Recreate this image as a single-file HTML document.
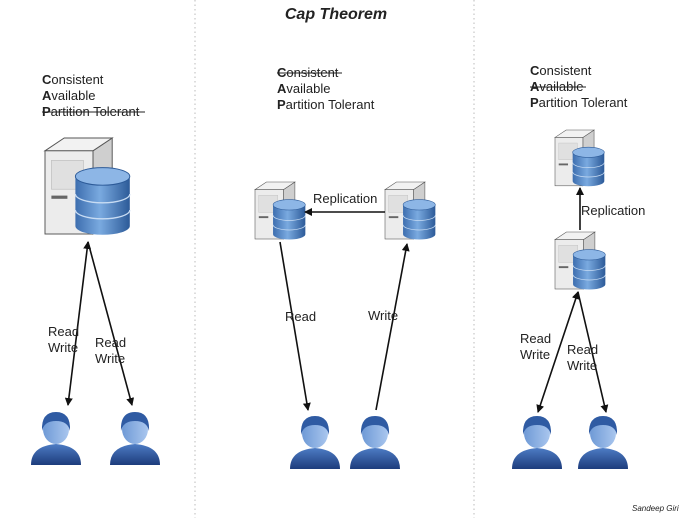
<!DOCTYPE html>
<html><head><meta charset="utf-8"><style>
html,body{margin:0;padding:0;background:#fff;width:690px;height:518px;overflow:hidden}
svg text{font-family:"Liberation Sans",sans-serif;fill:#222}
</style></head><body>
<svg width="690" height="518" viewBox="0 0 690 518" xmlns="http://www.w3.org/2000/svg">
<defs>
<linearGradient id="db" x1="0" x2="1" y1="0" y2="0"><stop offset="0" stop-color="#3d6eaf"/><stop offset="0.45" stop-color="#7aaae0"/><stop offset="1" stop-color="#2c5a98"/></linearGradient>
<linearGradient id="us" x1="0" x2="0" y1="0" y2="1"><stop offset="0" stop-color="#4d7cc4"/><stop offset="1" stop-color="#1d3c7c"/></linearGradient>
<linearGradient id="face" x1="0" x2="1"><stop offset="0" stop-color="#6f9ad6"/><stop offset="1" stop-color="#a9c6ee"/></linearGradient>
<g id="srv">
<polygon points="30,8 42,0 42,52 30,60" fill="#cfcfcf" stroke="#555" stroke-width="0.6"/>
<polygon points="0,8 12,0 42,0 30,8" fill="#f2f2f2" stroke="#555" stroke-width="0.6"/>
<rect x="0" y="8" width="30" height="52" fill="#ececec" stroke="#555" stroke-width="0.6"/>
<rect x="4" y="14" width="20" height="18" fill="#e0e0e0" stroke="#bbb" stroke-width="0.4"/>
<rect x="4" y="36" width="10" height="2" fill="#666"/>
<path d="M19,24 v31 a17,5.5 0 0 0 34,0 v-31 z" fill="url(#db)"/>
<ellipse cx="36" cy="24" rx="17" ry="5.5" fill="#8db6e6" stroke="#2c5a98" stroke-width="0.6"/>
<path d="M19,35 a17,5.5 0 0 0 34,0 M19,45 a17,5.5 0 0 0 34,0" fill="none" stroke="#c8dcf3" stroke-width="0.8"/>
</g>
<g id="usr">
<path d="M0,55 Q0,36 25,34 Q50,36 50,55 Z" fill="url(#us)"/>
<ellipse cx="25" cy="19" rx="13" ry="15" fill="url(#face)"/>
<path d="M11,21 Q10,2 25,2 Q40,2 39,21 Q37,11 25,11 Q13,11 11,21 Z" fill="#2f5ba3"/>
</g>
<marker id="ah" markerWidth="8" markerHeight="8" refX="7" refY="4" orient="auto" markerUnits="userSpaceOnUse"><path d="M0,0 L8,4 L0,8 z" fill="#111"/></marker>
<marker id="at" markerWidth="8" markerHeight="8" refX="1" refY="4" orient="auto" markerUnits="userSpaceOnUse"><path d="M8,0 L0,4 L8,8 z" fill="#111"/></marker>
</defs>
<line x1="195" y1="0" x2="195" y2="518" stroke="#bbb" stroke-dasharray="1.5,3"/>
<line x1="474" y1="0" x2="474" y2="518" stroke="#bbb" stroke-dasharray="1.5,3"/>
<text x="336" y="19" font-size="16" font-weight="bold" font-style="italic" text-anchor="middle">Cap Theorem</text>

<g font-size="13">
<text x="42" y="84"><tspan font-weight="bold">C</tspan>onsistent</text>
<text x="42" y="100"><tspan font-weight="bold">A</tspan>vailable</text>
<text x="42" y="116"><tspan font-weight="bold">P</tspan>artition Tolerant</text>
<line x1="42" y1="112" x2="145" y2="112" stroke="#222"/>
<text x="277" y="77"><tspan font-weight="bold">C</tspan>onsistent</text>
<line x1="277" y1="73" x2="342" y2="73" stroke="#222"/>
<text x="277" y="93"><tspan font-weight="bold">A</tspan>vailable</text>
<text x="277" y="109"><tspan font-weight="bold">P</tspan>artition Tolerant</text>
<text x="530" y="75"><tspan font-weight="bold">C</tspan>onsistent</text>
<text x="530" y="91"><tspan font-weight="bold">A</tspan>vailable</text>
<line x1="530" y1="87" x2="586" y2="87" stroke="#222"/>
<text x="530" y="107"><tspan font-weight="bold">P</tspan>artition Tolerant</text>
</g>

<use href="#srv" transform="translate(45,138) scale(1.6)"/>
<use href="#srv" transform="translate(255,182) scale(0.95)"/>
<use href="#srv" transform="translate(385,182) scale(0.95)"/>
<use href="#srv" transform="translate(555,130) scale(0.93)"/>
<use href="#srv" transform="translate(555,232) scale(0.95)"/>

<g stroke="#111" stroke-width="1.6" fill="none">
<line x1="88" y1="242" x2="68" y2="405" marker-start="url(#at)" marker-end="url(#ah)"/>
<line x1="88" y1="242" x2="132" y2="405" marker-end="url(#ah)"/>
<line x1="385" y1="212" x2="305" y2="212" marker-end="url(#ah)"/>
<line x1="280" y1="242" x2="308" y2="410" marker-end="url(#ah)"/>
<line x1="376" y1="410" x2="407" y2="244" marker-end="url(#ah)"/>
<line x1="580" y1="230" x2="580" y2="188" marker-end="url(#ah)"/>
<line x1="578" y1="292" x2="538" y2="412" marker-start="url(#at)" marker-end="url(#ah)"/>
<line x1="578" y1="292" x2="606" y2="412" marker-end="url(#ah)"/>
</g>

<g font-size="13">
<text x="48" y="336">Read</text><text x="48" y="352">Write</text>
<text x="95" y="347">Read</text><text x="95" y="363">Write</text>
<text x="313" y="203">Replication</text>
<text x="285" y="321">Read</text>
<text x="368" y="320">Write</text>
<text x="581" y="215">Replication</text>
<text x="520" y="343">Read</text><text x="520" y="359">Write</text>
<text x="567" y="354">Read</text><text x="567" y="370">Write</text>
</g>

<use href="#usr" transform="translate(31,410)"/>
<use href="#usr" transform="translate(110,410)"/>
<use href="#usr" transform="translate(290,414)"/>
<use href="#usr" transform="translate(350,414)"/>
<use href="#usr" transform="translate(512,414)"/>
<use href="#usr" transform="translate(578,414)"/>

<text x="632" y="511" font-size="8" font-style="italic">Sandeep Giri</text>
</svg>
</body></html>
